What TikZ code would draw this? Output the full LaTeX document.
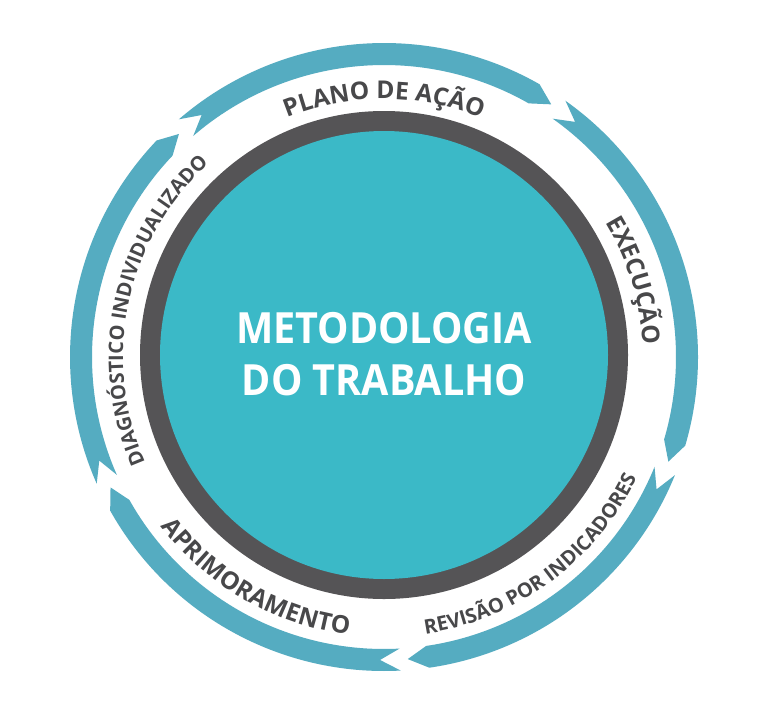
\documentclass[tikz,border=0pt]{standalone}
\usepackage{fontspec}
\usepackage{graphicx}
\setmainfont{Open Sans}
\usetikzlibrary{decorations.text}
\definecolor{bandblue}{HTML}{55ACC1}
\definecolor{coreteal}{HTML}{3BB9C7}
\definecolor{ringgray}{HTML}{555456}
\definecolor{lblgray}{HTML}{48484A}
\newcommand\lblbig{\fontsize{24.5}{24.5}\selectfont\bfseries}
\newcommand\lblsmall{\fontsize{20}{20}\selectfont\bfseries}
% band segment: #1 tail notch angle, #2 head tip angle (clockwise, #1 > #2)
\newcommand\bandseg[2]{%
  \fill[segfill] (#1+3.8:314pt) arc[start angle=#1+3.8, end angle=#2+3.8, radius=314pt]
    -- (#2:303pt) -- (#2+3.8:292pt)
    arc[start angle=#2+3.8, end angle=#1+3.8, radius=292pt]
    -- (#1:303pt) -- cycle;}
\tikzset{
  segfill/.style={fill=bandblue, draw=none},
}
\begin{document}
\begin{tikzpicture}[x=1pt,y=1pt]
  \fill[white] (0,0) rectangle (768,-715);
  \useasboundingbox (0,0) rectangle (768,-715);
  % core
  \fill[ringgray] (384,-355) circle[radius=244pt];
  \fill[coreteal] (384,-355) circle[radius=224pt];
  \node[text=white, font=\fontsize{43}{52}\selectfont\bfseries, align=center, inner sep=0pt]
    (title) at (384,-354) {\scalebox{0.92}[1]{METODOLOGIA}\\\scalebox{0.92}[1]{DO TRABALHO}};
  \begin{scope}[shift={(384,-357)}]
    % arrow band
    \bandseg{127}{56.5}
    \bandseg{50.9}{-20.2}
    \bandseg{-25.9}{-85.5}
    \bandseg{269.25}{205.5}
    \bandseg{200}{132.6}
    % curved labels
    \path[decorate, decoration={text along path, text align=center, text color=lblgray,
      text={|\lblbig|PLANO DE AÇÃO}}]
      (150:258pt) arc[start angle=150, end angle=30, radius=258pt];
    \path[decorate, decoration={text along path, text align=center, text color=lblgray,
      text={|\lblbig|EXECUÇÃO}}]
      (76:259pt) arc[start angle=76, end angle=-42, radius=259pt];
    \path[decorate, decoration={text along path, text align=center, text color=lblgray,
      text={|\lblsmall|DIAGNÓSTICO INDIVIDUALIZADO}}]
      (228:261pt) arc[start angle=228, end angle=108, radius=261pt];
    \path[decorate, decoration={text along path, text align=center, text color=lblgray,
      text={|\lblbig|APRIMORAMENTO}}]
      (180:280pt) arc[start angle=180, end angle=300, radius=280pt];
    \path[decorate, decoration={text along path, text align=center, text color=lblgray,
      text={|\lblsmall|REVISÃO POR INDICADORES}}]
      (246.5:280pt) arc[start angle=246.5, end angle=366.5, radius=280pt];
  \end{scope}
\end{tikzpicture}
\end{document}
